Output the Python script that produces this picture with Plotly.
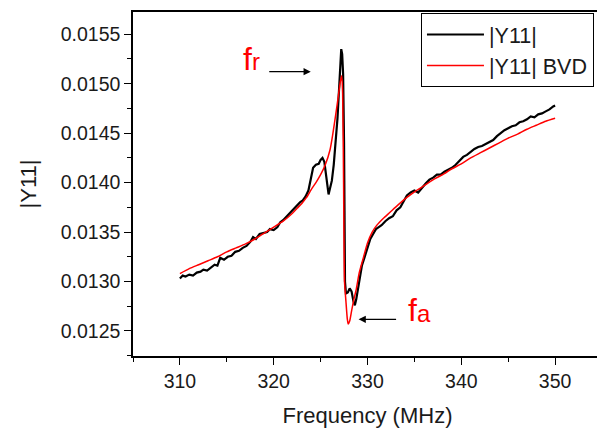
import plotly.graph_objects as go

# Measured |Y11| (black)
meas_f = [310.0, 310.3, 310.6, 311.0, 311.4, 311.8, 312.2, 312.5, 312.9, 313.3, 313.7, 314.0,
          314.3, 314.7, 315.1, 315.5, 315.9, 316.3, 316.7, 317.1, 317.5, 317.8, 318.1, 318.5,
          318.9, 319.3, 319.6, 320.0, 320.4, 320.7, 321.0, 321.4, 321.8, 322.1, 322.4, 322.8,
          323.1, 323.4, 323.7, 324.0, 324.2, 324.5, 324.8, 325.0, 325.2, 325.4, 325.6, 325.75,
          325.85, 326.0, 326.2, 326.4, 326.6, 326.8, 327.0, 327.1, 327.2, 327.3, 327.4, 327.5,
          327.55, 327.6, 327.7, 327.9, 328.1, 328.3, 328.5, 328.65, 328.8, 329.0, 329.2, 329.4,
          329.7, 330.0, 330.3, 330.6, 330.9, 331.2, 331.5, 331.9, 332.3, 332.7, 333.1, 333.5,
          333.9, 334.2, 334.6, 335.0, 335.4, 335.8, 336.2, 336.6, 337.0, 337.4, 337.8, 338.2,
          338.6, 339.0, 339.4, 339.8, 340.2, 340.6, 341.0, 341.4, 341.8, 342.2, 342.6, 343.0,
          343.4, 343.8, 344.2, 344.6, 345.0, 345.4, 345.8, 346.2, 346.6, 347.0, 347.4, 347.8,
          348.2, 348.6, 349.0, 349.4, 349.8, 350.0]
meas_y = [0.01303, 0.01306, 0.01305, 0.01307, 0.01306, 0.01309, 0.01310, 0.01312, 0.01311, 0.01314, 0.01317, 0.01316,
          0.01324, 0.01322, 0.01325, 0.01326, 0.01330, 0.01331, 0.01334, 0.01336, 0.01340, 0.01345, 0.01343, 0.01348,
          0.01349, 0.01350, 0.01353, 0.01352, 0.01355, 0.01360, 0.01362, 0.01366, 0.01371, 0.01374, 0.01377, 0.01380,
          0.01382, 0.01386, 0.01392, 0.01405, 0.01415, 0.01418, 0.01419, 0.01423, 0.01425, 0.01421, 0.01405, 0.01392,
          0.01388, 0.01394, 0.01402, 0.01418, 0.01440, 0.01465, 0.01500, 0.01520, 0.01535, 0.01530, 0.01510, 0.01440,
          0.01350, 0.01300, 0.01288, 0.01289, 0.01293, 0.01290, 0.01280, 0.01276, 0.01282, 0.01295, 0.01305, 0.01316,
          0.01325, 0.01334, 0.01343, 0.01348, 0.01353, 0.01355, 0.01357, 0.01361, 0.01364, 0.01366, 0.01372, 0.01375,
          0.01382, 0.01387, 0.01390, 0.01392, 0.01390, 0.01395, 0.01399, 0.01403, 0.01405, 0.01408, 0.01408, 0.01411,
          0.01413, 0.01415, 0.01418, 0.01422, 0.01426, 0.01428, 0.01431, 0.01434, 0.01436, 0.01437, 0.01439, 0.01441,
          0.01443, 0.01447, 0.01450, 0.01453, 0.01455, 0.01457, 0.01458, 0.01461, 0.01462, 0.01464, 0.01467, 0.01466,
          0.01469, 0.01470, 0.01472, 0.01474, 0.01477, 0.01478]

# BVD fit (red)
bvd_f = [310.0, 311.0, 312.0, 313.0, 314.0, 315.0, 316.0, 317.0, 318.0, 319.0, 320.0, 321.0,
         322.0, 322.5, 323.0, 323.5, 324.0, 324.5, 325.0, 325.5, 326.0, 326.3, 326.6, 326.9,
         327.1, 327.25, 327.35, 327.45, 327.55, 327.7, 327.85, 327.95, 328.1, 328.3, 328.5, 328.8,
         329.1, 329.5, 330.0, 330.5, 331.0, 331.7, 332.4, 333.2, 334.2, 335.2, 336.2, 337.2,
         338.2, 339.0, 340.0, 341.0, 342.0, 343.0, 344.0, 345.0, 346.0, 347.0, 348.0, 349.0, 350.0]
bvd_y = [0.01308, 0.01313, 0.01317, 0.01321, 0.01325, 0.01330, 0.01334, 0.01338, 0.01343, 0.01349, 0.01355, 0.01361,
         0.01369, 0.01374, 0.01379, 0.01385, 0.01393, 0.01400, 0.01408, 0.01418, 0.01433, 0.01449, 0.01468, 0.01488,
         0.01502, 0.01508, 0.01490, 0.01400, 0.01300, 0.01280, 0.01262, 0.01257, 0.01260, 0.01270, 0.01280, 0.01292,
         0.01308, 0.01322, 0.01339, 0.01350, 0.01357, 0.01364, 0.01370, 0.01377, 0.01385, 0.01392, 0.01398, 0.01404,
         0.01409, 0.01414, 0.01419, 0.01425, 0.01430, 0.01435, 0.01440, 0.01445, 0.01449, 0.01454, 0.01458, 0.01462, 0.01465]

x_ticks = [310, 320, 330, 340, 350]
y_ticks = [0.0125, 0.0130, 0.0135, 0.0140, 0.0145, 0.0150, 0.0155]

FONT = "Liberation Sans, Arial, sans-serif"
TXT = "#1a1a1a"

fig = go.Figure()
fig.add_trace(go.Scatter(x=meas_f, y=meas_y, mode="lines", name="|Y11|",
                         line=dict(color="black", width=2.2)))
fig.add_trace(go.Scatter(x=bvd_f, y=bvd_y, mode="lines", name="|Y11| BVD",
                         line=dict(color="#ff0000", width=1.5, shape="spline", smoothing=0.6)))

axis_common = dict(showline=True, linecolor="black", linewidth=1.5, mirror=True,
                   ticks="outside", ticklen=7, tickwidth=1.2, tickcolor="black",
                   showgrid=False, zeroline=False,
                   tickfont=dict(family=FONT, size=19.5, color=TXT))

fig.update_xaxes(range=[305, 355], tickvals=x_ticks, ticktext=[str(v) for v in x_ticks],
                 minor=dict(dtick=5, tick0=305, ticks="outside", ticklen=4, tickcolor="black", tickwidth=1.2),
                 title=dict(text="Frequency (MHz)", font=dict(family=FONT, size=22, color=TXT), standoff=16),
                 **axis_common)
fig.update_yaxes(range=[0.012247, 0.015725], tickvals=y_ticks, ticktext=[f"{v:.4f}" for v in y_ticks],
                 minor=dict(dtick=0.00025, tick0=0.0125, ticks="outside", ticklen=4, tickcolor="black", tickwidth=1.2),
                 title=dict(text="|Y11|", font=dict(family=FONT, size=22, color=TXT), standoff=18),
                 **axis_common)

# arrows
fig.add_annotation(x=323.95, y=0.015122, ax=-43, ay=0, axref="pixel", ayref="pixel",
                   text="", showarrow=True, arrowhead=2, arrowsize=1.2, arrowwidth=1.2, arrowcolor="black")
fig.add_annotation(x=329.05, y=0.012618, ax=39, ay=0, axref="pixel", ayref="pixel",
                   text="", showarrow=True, arrowhead=2, arrowsize=1.2, arrowwidth=1.2, arrowcolor="black")
# labels f_r and f_a
fig.add_annotation(x=317.16, y=0.015254, text="f", showarrow=False, xanchor="center", yanchor="middle",
                   font=dict(family=FONT, size=32, color="#ff0000"))
fig.add_annotation(x=318.13, y=0.015221, text="r", showarrow=False, xanchor="center", yanchor="middle",
                   font=dict(family=FONT, size=24, color="#ff0000"))
fig.add_annotation(x=334.76, y=0.012713, text="f", showarrow=False, xanchor="center", yanchor="middle",
                   font=dict(family=FONT, size=32, color="#ff0000"))
fig.add_annotation(x=335.98, y=0.012680, text="a", showarrow=False, xanchor="center", yanchor="middle",
                   font=dict(family=FONT, size=24, color="#ff0000"))

fig.update_layout(
    width=597, height=420,
    margin=dict(l=125, r=3, t=4, b=72, autoexpand=False),
    paper_bgcolor="white", plot_bgcolor="white",
    showlegend=True,
    legend=dict(x=0.614, y=0.997, xanchor="left", yanchor="top",
                bordercolor="black", borderwidth=1, bgcolor="white",
                font=dict(family=FONT, size=21.5, color=TXT),
                itemwidth=57, tracegroupgap=0),
)

fig.write_html("out.html")
